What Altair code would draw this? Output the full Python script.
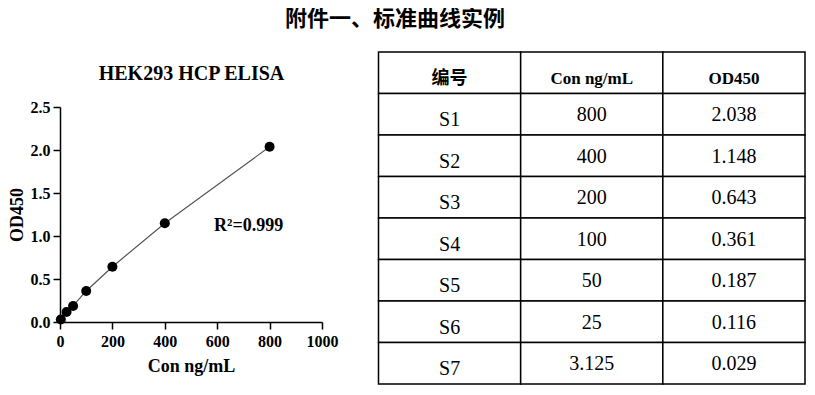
import altair as alt
import pandas as pd

# ---------------- data ----------------
sample_ids = ["S1", "S2", "S3", "S4", "S5", "S6", "S7"]
conc_ng_ml = [800, 400, 200, 100, 50, 25, 3.125]
od450 = [2.038, 1.148, 0.643, 0.361, 0.187, 0.116, 0.029]
conc_labels = ["800", "400", "200", "100", "50", "25", "3.125"]
od_labels = ["2.038", "1.148", "0.643", "0.361", "0.187", "0.116", "0.029"]
table_headers = ["编号", "Con ng/mL", "OD450"]
x_ticks = [0, 200, 400, 600, 800, 1000]
y_ticks = [0.0, 0.5, 1.0, 1.5, 2.0, 2.5]
r2_text = ["R²=0.999"]
r2_at_conc = [588]
r2_at_od = [1.115]

main_title = "附件一、标准曲线实例"
plot_title = "HEK293 HCP ELISA"
x_title = "Con ng/mL"
y_title = "OD450"

SERIF = "Liberation Serif"
CJK = "Noto Sans CJK SC"

# ---------------- scatter (standard curve) ----------------
curve = pd.DataFrame({"conc": conc_ng_ml, "od": od450})
r2 = pd.DataFrame({"x": r2_at_conc, "y": r2_at_od, "label": r2_text})

xs = alt.Scale(domain=[0, 1000], nice=False)
ys = alt.Scale(domain=[0, 2.5], nice=False)

axis_common = dict(
    grid=False, tickSize=7, tickWidth=1.5, tickColor="black",
    domainWidth=1.5, domainColor="black",
    labelFont=SERIF, labelFontSize=16, labelFontWeight="bold", labelColor="black",
    labelFlush=False,
    titleFont=SERIF, titleFontSize=18, titleFontWeight="bold", titleColor="black",
)

x_axis = alt.Axis(values=x_ticks, format="d", labelPadding=4, title=x_title,
                  titlePadding=8, **axis_common)
y_axis = alt.Axis(values=y_ticks, format=".1f", labelPadding=3, title=y_title,
                  titlePadding=4, **axis_common)
top_axis = alt.Axis(orient="top", title=plot_title, labels=False, ticks=False,
                    domain=False, grid=False, titleFont=SERIF, titleFontSize=20,
                    titleFontWeight="bold", titleColor="black", titlePadding=24)

line = alt.Chart(curve).mark_line(color="#555555", strokeWidth=1.2).encode(
    x=alt.X("conc:Q", scale=xs, axis=top_axis),
    y=alt.Y("od:Q", scale=ys, axis=None),
)
points = alt.Chart(curve).mark_circle(size=100, color="black", opacity=1).encode(
    x=alt.X("conc:Q", scale=xs, axis=x_axis),
    y=alt.Y("od:Q", scale=ys, axis=y_axis),
)
r2_mark = alt.Chart(r2).mark_text(
    align="left", baseline="middle", font=SERIF, fontSize=18,
    fontWeight="bold", color="black"
).encode(
    x=alt.X("x:Q", scale=xs, axis=None),
    y=alt.Y("y:Q", scale=ys, axis=None),
    text="label:N",
)
scatter = alt.layer(line, points, r2_mark).resolve_axis(x="independent", y="independent")

# ---------------- table ----------------
rows = []
for c, h in enumerate(table_headers):
    rows.append({"row": 0, "col": c, "text": h})
for r, (sid, cl, ol) in enumerate(zip(sample_ids, conc_labels, od_labels), start=1):
    rows.append({"row": r, "col": 0, "text": sid})
    rows.append({"row": r, "col": 1, "text": cl})
    rows.append({"row": r, "col": 2, "text": ol})
cells = pd.DataFrame(rows)


def tx():
    return alt.X("col:O", scale=alt.Scale(type="band", range=[318.5, 745],
                                          paddingInner=0, paddingOuter=0), axis=None)


def ty():
    return alt.Y("row:O", scale=alt.Scale(type="band", range=[-55, 277],
                                          paddingInner=0, paddingOuter=0), axis=None)


grid = alt.Chart(cells).mark_rect(fill="white", stroke="black", strokeWidth=1.5).encode(
    x=tx(), y=ty()
)
hdr_cjk = alt.Chart(cells[(cells.row == 0) & (cells.col == 0)]).mark_text(
    font=CJK, fontSize=18, fontWeight="bold", color="black", dy=6
).encode(x=tx(), y=ty(), text="text:N")
hdr_lat = alt.Chart(cells[(cells.row == 0) & (cells.col > 0)]).mark_text(
    font=SERIF, fontSize=17, fontWeight="bold", color="black", dy=6
).encode(x=tx(), y=ty(), text="text:N")
body_id = alt.Chart(cells[(cells.row > 0) & (cells.col == 0)]).mark_text(
    font=SERIF, fontSize=20, color="black", dy=6
).encode(x=tx(), y=ty(), text="text:N")
body_val = alt.Chart(cells[(cells.row > 0) & (cells.col > 0)]).mark_text(
    font=SERIF, fontSize=20, color="black", dy=1
).encode(x=tx(), y=ty(), text="text:N")

table = alt.layer(grid, hdr_cjk, hdr_lat, body_id, body_val)

chart = alt.layer(scatter, table).resolve_scale(
    x="independent", y="independent"
).properties(
    width=262,
    height=215,
    padding={"left": 0, "top": 0, "right": 0, "bottom": 0},
    title=alt.Title(main_title, font=CJK, fontSize=22, fontWeight="bold",
                    color="black", anchor="middle", frame="group",
                    offset=20, dx=204),
).configure_view(strokeWidth=0)

chart.save("out.html", embed_options={"renderer": "svg", "actions": False})
